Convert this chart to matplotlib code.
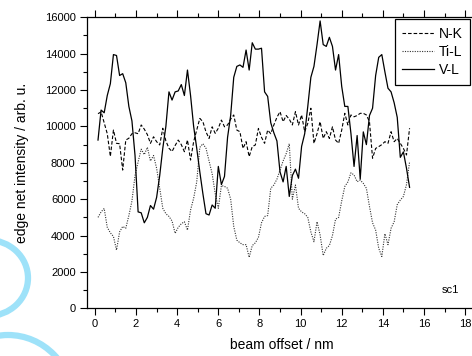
import numpy as np
import matplotlib
matplotlib.use("Agg")
import matplotlib.pyplot as plt
from matplotlib.patches import Ellipse
from matplotlib.ticker import MultipleLocator

plt.rcParams["font.family"] = ["Liberation Sans", "DejaVu Sans"]

# line scan: sampling of the beam offset (nm)
x_start, x_step, n_points = 0.15, 0.15, 102
offset = x_start + x_step * np.arange(n_points)

n_k = [10700, 10800, 10200, 9600, 8350, 9800, 9070, 9050, 7600, 9250,
       9350, 9600, 9650, 9600, 10080, 9850, 9550, 9070, 9430, 9160,
       8980, 9900, 9200, 8800, 8620, 8950, 9250, 9000, 8610, 9250,
       8150, 9160, 9800, 10440, 10260, 9700, 9340, 9980, 9620, 9900,
       10350, 9980, 10080, 10400, 10630, 9800, 9710, 8790, 9160, 8340,
       8890, 8980, 9890, 9400, 9070, 9800, 9600, 10080, 10500, 10810,
       10260, 10600, 10400, 10080, 10810, 10080, 10630, 9710, 10170, 11000,
       9070, 9600, 10260, 9340, 9710, 9340, 9980, 9250, 9070, 9800,
       10720, 10080, 10630, 10530, 10600, 10720, 10720, 10630, 10260, 8250,
       8790, 8890, 9000, 9160, 9070, 9710, 9160, 9340, 9070, 8790,
       8430, 9900]

ti_l = [5000, 5300, 5490, 4450, 4150, 3950, 3200, 4200, 4500, 4400,
        5100, 5900, 7300, 8050, 8750, 8450, 8850, 8100, 8400, 7700,
        6600, 5500, 5200, 5050, 4800, 4120, 4450, 4650, 4760, 4300,
        5400, 6050, 6950, 8850, 9050, 8800, 8100, 7400, 6300, 5500,
        6750, 6700, 6600, 6000, 4500, 3750, 3600, 3500, 3500, 2800,
        3450, 3600, 3900, 4700, 5050, 5100, 6600, 6780, 7100, 7600,
        8100, 8500, 9050, 6000, 6780, 5500, 5300, 5200, 5000, 4200,
        3660, 4760, 4030, 2900, 3300, 3450, 4000, 4900, 5000, 5900,
        6700, 6950, 7450, 7330, 6960, 7050, 6870, 6600, 5600, 4700,
        4300, 3300, 2850, 4100, 3500, 4400, 4760, 5700, 5950, 6150,
        6800, 8050]

v_l = [9250, 10900, 10750, 11700, 12350, 13950, 13900, 12800, 12900, 12400,
       11100, 10300, 8400, 5300, 5250, 4700, 5000, 5650, 5450, 6100,
       7300, 8800, 10000, 11900, 11450, 11900, 11950, 12300, 11700, 13100,
       11700, 10000, 8800, 7500, 6300, 5200, 5130, 5680, 5500, 7800,
       6800, 7250, 9400, 10600, 12700, 13300, 13380, 13250, 14200, 13100,
       14600, 14250, 14250, 14300, 11900, 11650, 10200, 9650, 9200, 7500,
       6950, 7800, 6150, 7300, 7650, 7150, 8900, 9600, 11100, 12700,
       13300, 14500, 15800, 14500, 14400, 14900, 14400, 13100, 13950, 12200,
       11100, 11100, 9600, 7800, 9500, 7100, 9700, 9000, 10600, 11000,
       12800, 13800, 13950, 13000, 12100, 11900, 11300, 10500, 8300, 8600,
       7700, 6650]

W, H = 472, 356
fig = plt.figure(figsize=(W / 100, H / 100), dpi=100)

# faint page watermark behind everything
bg = fig.add_axes([0, 0, 1, 1], zorder=-5)
bg.set_xlim(0, W); bg.set_ylim(H, 0); bg.axis("off")
wm = "#9ee2f9"
bg.add_patch(Ellipse((-12, 278), 80, 76, fill=False, lw=4.5, ec=wm))
bg.add_patch(Ellipse((8, 402), 130, 134, fill=False, lw=4.5, ec=wm))

x0, y0, x1, y1 = 86.7, 308.3, 476.0, 17.3
ax = fig.add_axes([x0 / W, 1 - y0 / H, (x1 - x0) / W, (y0 - y1) / H])
ax.patch.set_alpha(0)

ax.plot(offset, n_k, color="black", lw=0.8, ls=(0, (3.2, 1.8)), label="N-K")
ax.plot(offset, ti_l, color="#333333", lw=0.8, ls=(0, (1, 1.2)), label="Ti-L")
ax.plot(offset, v_l, color="black", lw=0.9, ls="-", label="V-L")

ax.set_xlim(-0.4, 18.53)
ax.set_ylim(0, 16000)
ax.xaxis.set_major_locator(MultipleLocator(2))
ax.xaxis.set_minor_locator(MultipleLocator(1))
ax.yaxis.set_major_locator(MultipleLocator(2000))
ax.yaxis.set_minor_locator(MultipleLocator(1000))
ax.tick_params(which="both", direction="out", top=True, right=False,
               labelsize=8, width=0.8, colors="black")
ax.tick_params(which="major", length=5, pad=3)
ax.tick_params(which="minor", length=3)
for s in ["left", "bottom", "top"]:
    ax.spines[s].set_linewidth(0.9)
ax.spines["right"].set_visible(False)

ax.set_xlabel("beam offset / nm", fontsize=10, labelpad=6)
ax.set_ylabel("edge net intensity / arb. u.", fontsize=10, labelpad=11)

ax.text(17.3, 1000, "sc1", fontsize=8, ha="center", va="center")

leg = ax.legend(loc="upper right", bbox_to_anchor=(470 / W, 1 - 19.3 / H),
                bbox_transform=fig.transFigure, borderaxespad=0,
                fontsize=10, frameon=True, fancybox=False, framealpha=1,
                handlelength=2.3, handletextpad=0.3, borderpad=0.55,
                labelspacing=0.3)
leg.get_frame().set_edgecolor("black")
leg.get_frame().set_linewidth(0.9)

fig.savefig("out.png", dpi=100, facecolor="white")
